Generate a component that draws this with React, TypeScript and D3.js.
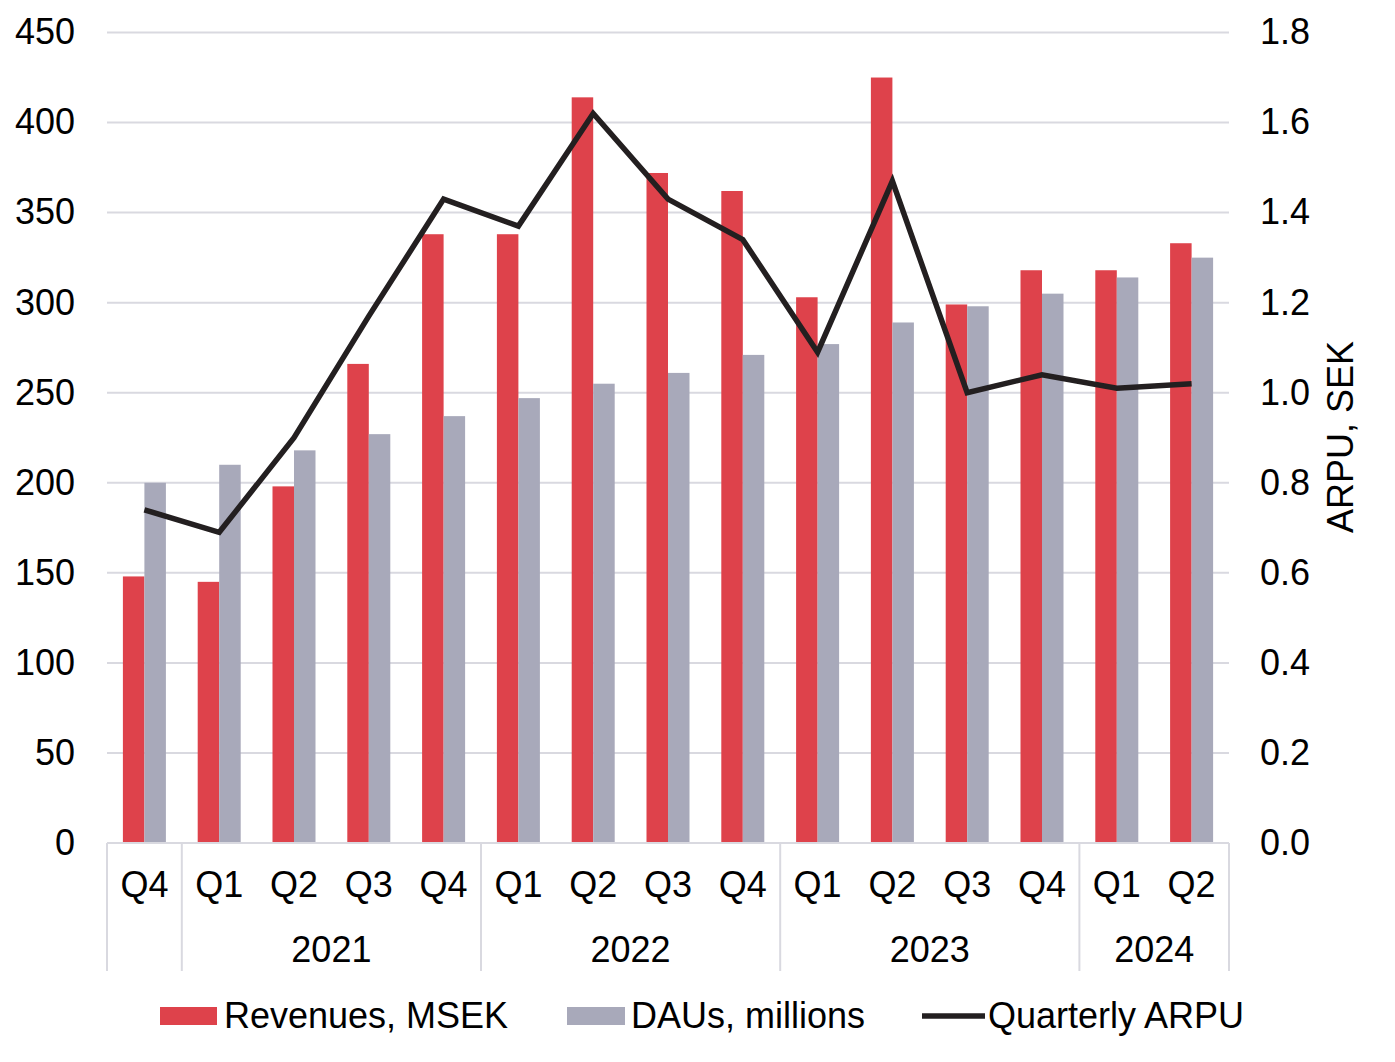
import React from "react";
import * as d3 from "d3";

const quarters = ["Q4", "Q1", "Q2", "Q3", "Q4", "Q1", "Q2", "Q3", "Q4", "Q1", "Q2", "Q3", "Q4", "Q1", "Q2"];
const years = [
  { label: "", start: 0, end: 1 },
  { label: "2021", start: 1, end: 5 },
  { label: "2022", start: 5, end: 9 },
  { label: "2023", start: 9, end: 13 },
  { label: "2024", start: 13, end: 15 },
];
const revenues = [148, 145, 198, 266, 338, 338, 414, 372, 362, 303, 425, 299, 318, 318, 333];
const daus = [200, 210, 218, 227, 237, 247, 255, 261, 271, 277, 289, 298, 305, 314, 325];
const arpu = [0.74, 0.69, 0.9, 1.17, 1.43, 1.37, 1.62, 1.43, 1.34, 1.09, 1.47, 1.0, 1.04, 1.01, 1.02];
const leftTicks = [0, 50, 100, 150, 200, 250, 300, 350, 400, 450];
const rightTicks = [0, 0.2, 0.4, 0.6, 0.8, 1.0, 1.2, 1.4, 1.6, 1.8];

const RED = "#de424b";
const GRAY = "#a8a9ba";
const LINE = "#231f20";
const GRID = "#d9d9e0";
const FONT = "'Liberation Sans', Arial, sans-serif";

export default function App() {
  const W = 1395, H = 1062;
  const x0 = 107, x1 = 1229, yTop = 32.5, yBot = 843;
  const x = d3.scaleBand<number>().domain(d3.range(quarters.length)).range([x0, x1]);
  const yL = d3.scaleLinear().domain([0, 450]).range([yBot, yTop]);
  const yR = d3.scaleLinear().domain([0, 1.8]).range([yBot, yTop]);
  const bw = 21.5;
  const cx = (i: number) => (x(i) as number) + x.bandwidth() / 2;
  const line = d3.line<number>().x((_, i) => cx(i)).y((d) => yR(d));
  const fs = 36;

  return (
    <svg width={W} height={H} style={{ position: "absolute", left: 0, top: 0 }} fontFamily={FONT}>
      <rect width={W} height={H} fill="#fff" />
      {leftTicks.slice(1).map((t) => (
        <line key={t} x1={x0} x2={x1} y1={yL(t)} y2={yL(t)} stroke={GRID} strokeWidth={2} />
      ))}
      {revenues.map((v, i) => (
        <rect key={"r" + i} x={cx(i) - bw} y={yL(v)} width={bw} height={yBot - yL(v)} fill={RED} />
      ))}
      {daus.map((v, i) => (
        <rect key={"d" + i} x={cx(i)} y={yL(v)} width={bw} height={yBot - yL(v)} fill={GRAY} />
      ))}
      <line x1={x0} x2={x1} y1={yBot} y2={yBot} stroke={GRID} strokeWidth={2} />
      {years.map((yr, k) => (
        <line key={"v" + k} x1={x(yr.start) as number} x2={x(yr.start) as number} y1={yBot} y2={971} stroke={GRID} strokeWidth={2} />
      ))}
      <line x1={x1} x2={x1} y1={yBot} y2={971} stroke={GRID} strokeWidth={2} />
      <path d={line(arpu) || ""} fill="none" stroke={LINE} strokeWidth={5.5} strokeLinejoin="miter" />
      {leftTicks.map((t) => (
        <text key={"l" + t} x={75} y={yL(t)} dy="0.33em" textAnchor="end" fontSize={fs} fill="#000">{t}</text>
      ))}
      {rightTicks.map((t) => (
        <text key={"rt" + t} x={1260} y={yR(t)} dy="0.33em" textAnchor="start" fontSize={fs} fill="#000">{t.toFixed(1)}</text>
      ))}
      <text transform={`translate(1353,437) rotate(-90)`} textAnchor="middle" fontSize={fs} fill="#000">ARPU, SEK</text>
      {quarters.map((q, i) => (
        <text key={"q" + i} x={cx(i)} y={885} dy="0.33em" textAnchor="middle" fontSize={fs} fill="#000">{q}</text>
      ))}
      {years.map((yr, k) => (
        <text key={"y" + k} x={((x(yr.start) as number) + (yr.end < quarters.length ? (x(yr.end) as number) : x1)) / 2} y={950} dy="0.33em" textAnchor="middle" fontSize={fs} fill="#000">{yr.label}</text>
      ))}
      <g>
        <rect x={160} y={1007} width={57} height={18} fill={RED} />
        <text x={224} y={1016} dy="0.33em" fontSize={fs} fill="#000">Revenues, MSEK</text>
        <rect x={567} y={1007} width={58} height={18} fill={GRAY} />
        <text x={631} y={1016} dy="0.33em" fontSize={fs} fill="#000">DAUs, millions</text>
        <line x1={922} x2={985} y1={1016} y2={1016} stroke={LINE} strokeWidth={5.5} />
        <text x={988} y={1016} dy="0.33em" fontSize={fs} fill="#000">Quarterly ARPU</text>
      </g>
    </svg>
  );
}
